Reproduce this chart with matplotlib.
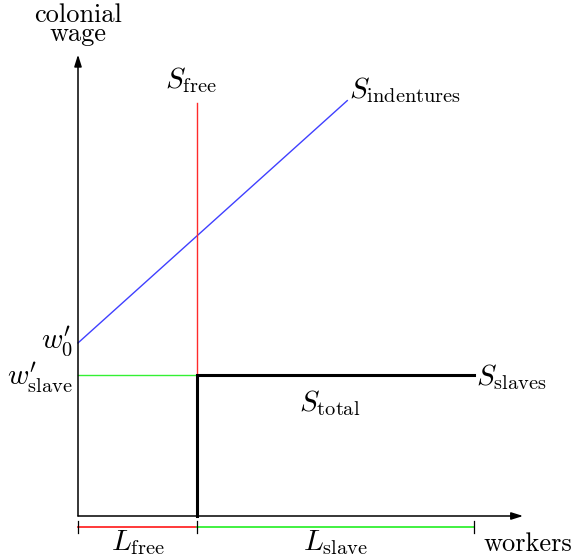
import matplotlib.pyplot as plt
import numpy as np

plt.rcParams['font.family'] = 'serif'
plt.rcParams['font.serif'] = ['cmr10', 'DejaVu Serif']
plt.rcParams['mathtext.fontset'] = 'cm'

# Model values (worker units / wage units)
L_free = 3.0
L_slave = 7.0
w_slave = 3.55
w0 = 4.37
slope = 0.9
x_ind_end = 6.8
S_free_top = 10.43
x_axis_end = 11.24
y_axis_end = 11.65

fig = plt.figure(figsize=(5.74, 5.59), dpi=100)
ax = fig.add_axes([0, 0, 1, 1])
px = 39.6
ax.set_xlim(-78 / px, (574 - 78) / px)
ax.set_ylim(-43 / px, 516 / px)
ax.axis('off')

arrow = dict(arrowstyle='-|>,head_length=0.7,head_width=0.22', color='black', lw=1.1,
             shrinkA=0, shrinkB=0)
ax.annotate('', xy=(0, y_axis_end), xytext=(0, 0), arrowprops=arrow)
ax.annotate('', xy=(x_axis_end, 0), xytext=(0, 0), arrowprops=arrow)

red = '#ff2a2a'
green = '#33f033'
blue = '#4040ff'

# Supply curves
x_ind = np.array([0, x_ind_end])
ax.plot(x_ind, w0 + slope * x_ind, color=blue, lw=1.0)
ax.plot([L_free, L_free], [w_slave, S_free_top], color=red, lw=1.0)
ax.plot([0, L_free], [w_slave, w_slave], color=green, lw=1.0)
ax.plot([L_free, L_free, L_free + L_slave], [0, w_slave, w_slave], color='black', lw=2.2,
        solid_joinstyle='miter')

# Brackets below the axis
yb = -0.28
ax.plot([0, L_free], [yb, yb], color=red, lw=1.3)
ax.plot([L_free, L_free + L_slave], [yb, yb], color=green, lw=1.3)
for xt in [0, L_free, L_free + L_slave]:
    ax.plot([xt, xt], [yb - 0.15, yb + 0.15], color='black', lw=0.9)

fs = 19
ms = 21
ax.text(0, y_axis_end + 0.22, 'colonial\nwage', ha='center', va='bottom', fontsize=fs,
        linespacing=0.75)
ax.text(L_free - 0.15, S_free_top + 0.2, r'$S_{\mathrm{free}}$', ha='center', va='bottom', fontsize=ms)
ax.text(x_ind_end + 0.05, w0 + slope * x_ind_end - 0.1, r'$S_{\mathrm{indentures}}$', ha='left',
        va='bottom', fontsize=ms)
ax.text(-0.12, w0 + 0.05, r"$w_0'$", ha='right', va='center', fontsize=ms)
ax.text(-0.12, w_slave - 0.05, r"$w_{\mathrm{slave}}'$", ha='right', va='center', fontsize=ms)
ax.text(L_free + L_slave + 0.05, w_slave - 0.05, r'$S_{\mathrm{slaves}}$', ha='left',
        va='center', fontsize=ms)
ax.text(6.35, w_slave - 0.7, r'$S_{\mathrm{total}}$', ha='center', va='center', fontsize=ms)
ax.text(L_free / 2, -0.68, r'$L_{\mathrm{free}}$', ha='center', va='center', fontsize=ms)
ax.text(L_free + L_slave / 2, -0.68, r'$L_{\mathrm{slave}}$', ha='center', va='center', fontsize=ms)
ax.text(10.25, -0.72, 'workers', ha='left', va='center', fontsize=fs)

fig.savefig('out.png', dpi=100)
